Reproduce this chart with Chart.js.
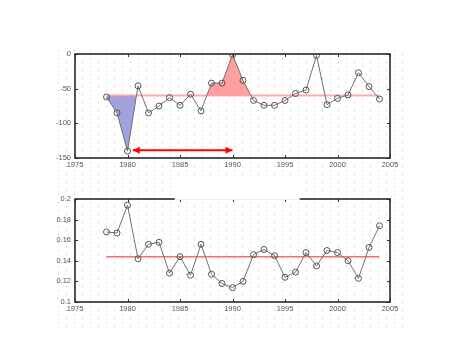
<!DOCTYPE html>
<html>
<head>
<meta charset="utf-8">
<script src="https://cdn.jsdelivr.net/npm/chart.js@4"></script>
<style>
html,body{margin:0;padding:0;background:#fff;}
#wrap{position:relative;width:476px;height:357px;overflow:hidden;}
canvas{position:absolute;left:0;}
</style>
</head>
<body>
<div id="wrap">
<canvas id="c1" width="476" height="178" style="top:0px"></canvas>
<canvas id="c2" width="476" height="179" style="top:178px"></canvas>
</div>
<script>
const years = [1978,1979,1980,1981,1982,1983,1984,1985,1986,1987,1988,1989,1990,1991,1992,1993,1994,1995,1996,1997,1998,1999,2000,2001,2002,2003,2004];
const topValues = [-62,-85,-140,-46,-85,-75,-63,-74,-58,-82,-42,-42,-1,-38,-67,-74,-74,-67,-57,-52,-2,-73,-64,-59,-27,-47,-65];
const bottomValues = [0.168,0.167,0.194,0.142,0.156,0.158,0.128,0.144,0.126,0.156,0.127,0.118,0.114,0.120,0.146,0.151,0.145,0.124,0.129,0.148,0.135,0.150,0.148,0.140,0.123,0.153,0.174];
const topMean = -60;
const bottomMean = 0.144;
const blueYears = [1978,1979,1980,1981];
const redYears = [1987,1988,1989,1990,1991,1992];
const arrowYears = [1980.5,1990];
const arrowValue = -139;
const xTicks = [1975,1980,1985,1990,1995,2000,2005];
const topYTicks = [-150,-100,-50,0];
const bottomYTicks = [0.1,0.12,0.14,0.16,0.18,0.2];
const bottomYLabels = ['0.1','0.12','0.14','0.16','0.18','0.2'];

const FONT = {family:'"Liberation Sans", Arial, sans-serif', size:7.5};

function pts(xs, ys){ return xs.map((x,i)=>({x:x,y:ys[i]})); }
function sub(yrs){ return yrs.map(y=>({x:y, y:topValues[years.indexOf(y)]})); }

function dotsPlugin(offsetTop){
  return {
    id:'dots',
    beforeDraw(chart){
      const ctx = chart.ctx;
      ctx.save();
      ctx.fillStyle = '#bdbdbd';
      for(let j=0; ; j++){
        const py = 50 + 4*j;
        if(py > 327) break;
        const cy = py - offsetTop;
        if(cy < 0 || cy >= chart.height) continue;
        for(let px = 58 + (j%2)*8; px <= 402; px += 16){
          ctx.fillRect(px, cy, 1, 1);
        }
      }
      ctx.restore();
    }
  };
}

function framePlugin(yTicks, gap){
  return {
    id:'frame',
    afterDraw(chart){
      const ctx = chart.ctx, a = chart.chartArea;
      const xs = chart.scales.x, ys = chart.scales.y;
      ctx.save();
      ctx.strokeStyle = '#333';
      ctx.lineWidth = 1;
      ctx.beginPath();
      xTicks.forEach(v=>{
        const px = Math.round(xs.getPixelForValue(v))+0.5;
        ctx.moveTo(px, a.bottom); ctx.lineTo(px, a.bottom-3);
        ctx.moveTo(px, a.top); ctx.lineTo(px, a.top+3);
      });
      yTicks.forEach(v=>{
        const py = Math.round(ys.getPixelForValue(v))+0.5;
        ctx.moveTo(a.left, py); ctx.lineTo(a.left+3, py);
        ctx.moveTo(a.right, py); ctx.lineTo(a.right-3, py);
      });
      ctx.stroke();
      ctx.lineWidth = 1.6;
      ctx.strokeStyle = '#2a2a2a';
      ctx.strokeRect(a.left, a.top, a.right-a.left, a.bottom-a.top);
      if(gap){
        ctx.fillStyle = '#fff';
        ctx.fillRect(xs.getPixelForValue(gap[0]), a.top-24, xs.getPixelForValue(gap[1])-xs.getPixelForValue(gap[0]), 24.9);
      }
      ctx.restore();
    }
  };
}

const arrowPlugin = {
  id:'arrow',
  afterDatasetsDraw(chart){
    const idx = chart.data.datasets.findIndex(d=>d.isArrow);
    if(idx<0) return;
    const p = chart.getDatasetMeta(idx).data;
    const ctx = chart.ctx;
    ctx.save();
    ctx.fillStyle = '#ff0000';
    const L = 7, W = 3.5;
    const a = p[0], b = p[p.length-1];
    ctx.beginPath();
    ctx.moveTo(a.x, a.y); ctx.lineTo(a.x+L, a.y-W); ctx.lineTo(a.x+L, a.y+W); ctx.closePath();
    ctx.moveTo(b.x, b.y); ctx.lineTo(b.x-L, b.y-W); ctx.lineTo(b.x-L, b.y+W); ctx.closePath();
    ctx.fill();
    ctx.restore();
  }
};

function scales(yMin, yMax, yTicks, yLabels, xHeight){
  return {
    x:{type:'linear', min:1975, max:2005,
       afterBuildTicks:s=>{s.ticks = xTicks.map(v=>({value:v}));},
       afterFit:s=>{s.height = xHeight;},
       ticks:{font:FONT, color:'#555', padding:2, maxRotation:0, autoSkip:false, callback:v=>String(v)},
       grid:{display:false, drawTicks:false}, border:{display:false}},
    y:{type:'linear', min:yMin, max:yMax,
       afterBuildTicks:s=>{s.ticks = yTicks.map(v=>({value:v}));},
       afterFit:s=>{s.width = 75;},
       ticks:{font:FONT, color:'#555', padding:4, autoSkip:false,
              callback:(v)=>{const i = yTicks.findIndex(t=>Math.abs(t-v)<1e-9); return yLabels ? yLabels[i] : String(v);}},
       grid:{display:false, drawTicks:false}, border:{display:false}}
  };
}

const common = {
  responsive:false, animation:false, devicePixelRatio:1,
  plugins:{legend:{display:false}, tooltip:{enabled:false}, title:{display:false}},
  elements:{line:{tension:0}}
};

new Chart(document.getElementById('c1'), {
  type:'line',
  data:{datasets:[
    {data:pts(years, topValues), borderColor:'#707070', borderWidth:1, pointRadius:3, pointBorderColor:'#555', pointBackgroundColor:'rgba(0,0,0,0)', pointBorderWidth:1, fill:false},
    {data:pts([years[0], years[years.length-1]],[topMean, topMean]), borderColor:'rgba(255,150,150,0.8)', borderWidth:2, pointRadius:0, fill:false},
    {data:sub(blueYears), borderWidth:0, borderColor:'rgba(0,0,0,0)', pointRadius:0, fill:{value:topMean, above:'rgba(0,0,0,0)', below:'rgba(145,145,215,0.85)'}},
    {data:sub(redYears), borderWidth:0, borderColor:'rgba(0,0,0,0)', pointRadius:0, fill:{value:topMean, above:'rgba(255,135,135,0.8)', below:'rgba(0,0,0,0)'}},
    {isArrow:true, data:pts(arrowYears,[arrowValue, arrowValue]), borderColor:'#ff0000', borderWidth:2, pointRadius:0, fill:false}
  ]},
  options:Object.assign({}, common, {
    layout:{padding:{left:0, right:86, top:54, bottom:0}},
    scales:scales(-150, 0, topYTicks, null, 20)
  }),
  plugins:[dotsPlugin(0), framePlugin(topYTicks, null), arrowPlugin]
});

new Chart(document.getElementById('c2'), {
  type:'line',
  data:{datasets:[
    {data:pts(years, bottomValues), borderColor:'#707070', borderWidth:1, pointRadius:3, pointBorderColor:'#555', pointBackgroundColor:'rgba(0,0,0,0)', pointBorderWidth:1, fill:false},
    {data:pts([years[0], years[years.length-1]],[bottomMean, bottomMean]), borderColor:'rgba(255,90,90,0.9)', borderWidth:1.5, pointRadius:0, fill:false}
  ]},
  options:Object.assign({}, common, {
    layout:{padding:{left:0, right:86, top:21, bottom:0}},
    scales:scales(0.1, 0.2, bottomYTicks, bottomYLabels, 55)
  }),
  plugins:[dotsPlugin(178), framePlugin(bottomYTicks, [1984.5, 1996.4])]
});
</script>
</body>
</html>
